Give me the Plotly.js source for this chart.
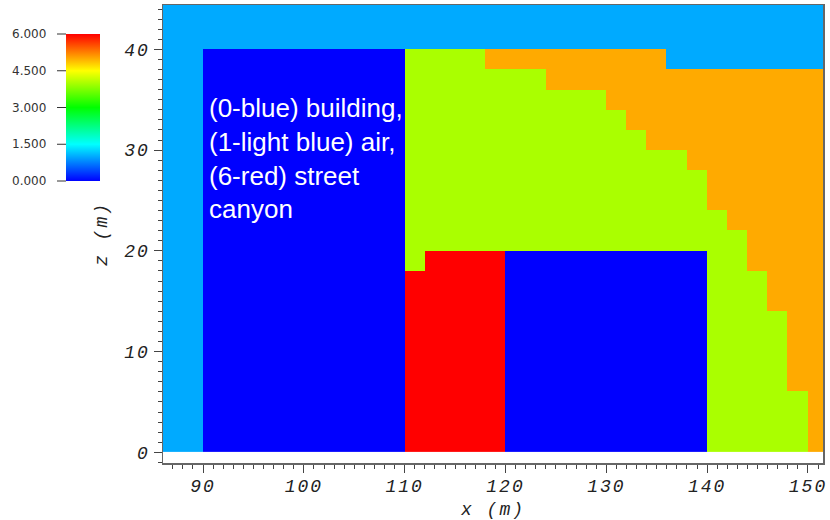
<!DOCTYPE html>
<html>
<head>
<meta charset="utf-8">
<script src="https://cdn.plot.ly/plotly-3.0.1.min.js"></script>
<style>
  html, body { margin: 0; padding: 0; background: #fff; }
  #plot { width: 830px; height: 520px; }
  .xtick text, .ytick text, .g-xtitle text, .g-ytitle text { letter-spacing: 2px; }
</style>
</head>
<body>
<div id="plot"></div>
<script>
// Cell centres of the 2 m grid (metres)
const xCenters = [87, 89, 91, 93, 95, 97, 99, 101, 103, 105, 107, 109, 111, 113, 115, 117, 119,
                  121, 123, 125, 127, 129, 131, 133, 135, 137, 139, 141, 143, 145, 147, 149, 151];
const zCenters = [1, 3, 5, 7, 9, 11, 13, 15, 17, 19, 21, 23, 25, 27, 29, 31, 33, 35, 37, 39, 41, 43, 45];

// Cell type per row, bottom row first (one digit per column):
// 0 building, 1 air, 4 and 5 canyon transition zones, 6 street canyon
const cellRows = [
  "110000000000666660000000000444445",
  "110000000000666660000000000444445",
  "110000000000666660000000000444445",
  "110000000000666660000000000444455",
  "110000000000666660000000000444455",
  "110000000000666660000000000444455",
  "110000000000666660000000000444455",
  "110000000000666660000000000444555",
  "110000000000666660000000000444555",
  "110000000000466660000000000445555",
  "110000000000444444444444444445555",
  "110000000000444444444444444455555",
  "110000000000444444444444444555555",
  "110000000000444444444444444555555",
  "110000000000444444444444445555555",
  "110000000000444444444444555555555",
  "110000000000444444444445555555555",
  "110000000000444444444455555555555",
  "110000000000444444455555555555555",
  "110000000000444455555555511111111",
  "111111111111111111111111111111111",
  "111111111111111111111111111111111",
  "111111111111111111111111111111111"
];
const cellValues = cellRows.map(r => r.split('').map(Number));

// Colour bar range and tick values
const cbMin = 0, cbMax = 6;
const cbTicks = [0, 1.5, 3, 4.5, 6];

const xTicks = [90, 100, 110, 120, 130, 140, 150];
const zTicks = [0, 10, 20, 30, 40];

const noteLines = ["(0-blue) building,", "(1-light blue) air,", "(6-red) street", "canyon"];

// Rainbow map: blue -> cyan -> green -> yellow -> red
const rainbow = [
  [0.00, '#0000ff'],
  [0.25, '#00ffff'],
  [0.50, '#00ff00'],
  [0.75, '#ffff00'],
  [1.00, '#ff0000']
];

// Page geometry (pixels)
const W = 830, H = 520;
const M = {l: 163, r: 7, t: 5, b: 57};
const plotW = W - M.l - M.r, plotH = H - M.t - M.b;
const px2paperX = px => (px - M.l) / plotW;
const px2paperY = py => (H - M.b - py) / plotH;

// Colour bar box in pixels
const cb = {left: 66, width: 34, top: 34, bottom: 181};
const cbY = v => cb.bottom - (v - cbMin) / (cbMax - cbMin) * (cb.bottom - cb.top);

const axisFont = {family: 'Liberation Mono, Courier New, monospace', size: 18, color: '#222', style: 'italic'};

const trace = {
  type: 'heatmap',
  x: xCenters,
  y: zCenters,
  z: cellValues,
  zmin: cbMin,
  zmax: cbMax,
  zsmooth: false,
  colorscale: rainbow,
  hoverinfo: 'skip',
  colorbar: {
    x: px2paperX(cb.left), xanchor: 'left', xref: 'paper',
    y: px2paperY((cb.top + cb.bottom) / 2), yanchor: 'middle', yref: 'paper',
    thickness: cb.width, thicknessmode: 'pixels',
    len: cb.bottom - cb.top, lenmode: 'pixels',
    xpad: 0, ypad: 0,
    outlinewidth: 0,
    ticks: '',
    showticklabels: false
  }
};

const annotations = cbTicks.map(v => ({
  xref: 'paper', yref: 'paper',
  x: px2paperX(48), y: px2paperY(cbY(v)),
  xanchor: 'right', yanchor: 'middle',
  text: v.toFixed(3),
  showarrow: false,
  font: {family: 'DejaVu Sans, sans-serif', size: 12, color: '#333'}
}));

annotations.push({
  xref: 'x', yref: 'y',
  x: 90.4, y: 29.2,
  xanchor: 'left', yanchor: 'middle', align: 'left',
  text: noteLines.join('<br>'),
  showarrow: false,
  font: {family: 'Liberation Sans, Arial, sans-serif', size: 26, color: '#ffffff'}
});

const shapes = cbTicks.map(v => ({
  type: 'line', xref: 'paper', yref: 'paper',
  x0: px2paperX(57), x1: px2paperX(cb.left),
  y0: px2paperY(cbY(v)), y1: px2paperY(cbY(v)),
  line: {color: '#333', width: 1}
}));

const layout = {
  width: W, height: H,
  margin: M,
  paper_bgcolor: '#ffffff',
  plot_bgcolor: '#ffffff',
  showlegend: false,
  xaxis: {
    range: [86.03, 151.49],
    tickvals: xTicks,
    ticks: 'outside', ticklen: 8, tickwidth: 1, tickcolor: '#444',
    minor: {dtick: 1, tick0: 0, ticks: 'outside', ticklen: 4, tickwidth: 1, tickcolor: '#444', showgrid: false},
    showgrid: false, zeroline: false,
    showline: true, linecolor: '#666', linewidth: 1.5, mirror: true,
    tickfont: axisFont,
    ticklabelstandoff: -2,
    title: {text: 'x (m)', font: axisFont, standoff: 8},
    automargin: false
  },
  yaxis: {
    range: [-1.06, 44.4],
    tickvals: zTicks,
    ticks: 'outside', ticklen: 8, tickwidth: 1, tickcolor: '#444',
    minor: {dtick: 1, tick0: 0, ticks: 'outside', ticklen: 4, tickwidth: 1, tickcolor: '#444', showgrid: false},
    showgrid: false, zeroline: false,
    showline: true, linecolor: '#666', linewidth: 1.5, mirror: true,
    tickfont: axisFont,
    title: {text: 'z (m)', font: axisFont, standoff: 12},
    automargin: false
  },
  annotations: annotations,
  shapes: shapes
};

Plotly.newPlot('plot', [trace], layout, {staticPlot: true, displayModeBar: false});
</script>
</body>
</html>
